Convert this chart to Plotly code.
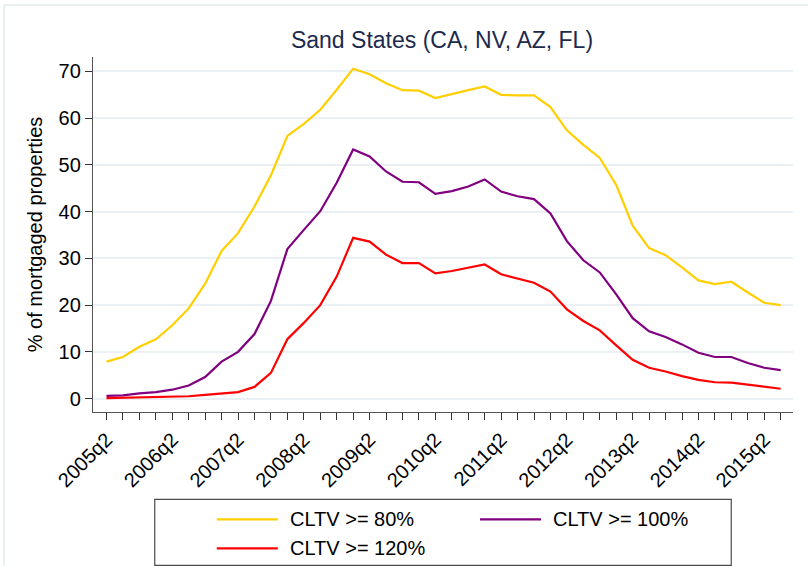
import plotly.graph_objects as go

# Quarterly periods, 2005q2 through 2015q3
quarters = [f"{y}q{q}" for y in range(2005, 2016) for q in range(1, 5)]
quarters = quarters[quarters.index("2005q2"):quarters.index("2015q3") + 1]

# Share of mortgaged properties above each combined loan-to-value threshold (%)
cltv_80 = [7.9, 8.9, 11.1, 12.7, 15.7, 19.3, 24.6, 31.6, 35.4, 41.1,
           47.8, 56.2, 58.8, 61.8, 66.1, 70.6, 69.4, 67.5, 66.0, 65.9,
           64.3, 65.2, 66.0, 66.8, 65.0, 64.9, 64.9, 62.4, 57.4, 54.3,
           51.5, 45.7, 37.0, 32.2, 30.7, 28.1, 25.3, 24.5, 25.0, 22.7,
           20.5, 20.0]
cltv_100 = [0.6, 0.7, 1.1, 1.4, 1.9, 2.8, 4.6, 7.9, 10.0, 13.8,
            20.9, 32.0, 36.1, 40.1, 46.2, 53.3, 51.8, 48.6, 46.4, 46.3,
            43.8, 44.4, 45.4, 46.9, 44.3, 43.3, 42.7, 39.6, 33.7, 29.6,
            27.0, 22.3, 17.2, 14.4, 13.2, 11.6, 9.8, 8.9, 8.9, 7.6,
            6.6, 6.1]
cltv_120 = [0.1, 0.2, 0.3, 0.3, 0.4, 0.5, 0.8, 1.1, 1.4, 2.5,
            5.5, 12.7, 16.2, 20.0, 26.1, 34.4, 33.6, 30.8, 29.0, 29.0,
            26.8, 27.3, 28.0, 28.7, 26.6, 25.7, 24.8, 22.9, 19.1, 16.6,
            14.6, 11.4, 8.3, 6.6, 5.8, 4.8, 4.0, 3.5, 3.4, 3.0,
            2.5, 2.1]

series_names = ["CLTV >= 80%", "CLTV >= 100%", "CLTV >= 120%"]
series_colors = ["#FFCF00", "#800080", "#FF0000"]
series_values = [cltv_80, cltv_100, cltv_120]

x_idx = list(range(len(quarters)))
tick_text = [q if q.endswith("q2") else "" for q in quarters]

FONT = "Liberation Sans, Arial, sans-serif"
TXT = 20

fig = go.Figure()
for name, color, vals in zip(series_names, series_colors, series_values):
    fig.add_trace(go.Scatter(
        x=x_idx, y=vals, mode="lines", name=name,
        line=dict(color=color, width=2.2), showlegend=False,
    ))

W, H = 808, 566
L, R, T, B = 93.3, 15.3, 57, 154.3
pw, ph = W - L - R, H - T - B


def px(x):
    return (x - L) / pw


def py(y):
    return (H - B - y) / ph


shapes = []
annotations = []

# outer graph-region frame
shapes.append(dict(type="rect", xref="paper", yref="paper",
                   x0=px(4.5), x1=px(812), y0=py(5), y1=py(572),
                   line=dict(color="#e3eaee", width=1.5), layer="below"))

# key box
shapes.append(dict(type="rect", xref="paper", yref="paper",
                   x0=px(155), x1=px(731), y0=py(499), y1=py(565),
                   line=dict(color="#4a4a4a", width=1.2)))

key_pos = [(217, 519), (480, 519), (217, 548)]
for (kx, ky), name, color in zip(key_pos, series_names, series_colors):
    shapes.append(dict(type="line", xref="paper", yref="paper",
                       x0=px(kx), x1=px(kx + 61), y0=py(ky), y1=py(ky),
                       line=dict(color=color, width=2.2)))
    annotations.append(dict(xref="paper", yref="paper", x=px(kx + 71), y=py(ky),
                            xanchor="left", yanchor="middle", showarrow=False,
                            text=name, font=dict(family=FONT, size=TXT, color="#000000")))

fig.update_layout(
    width=W, height=H,
    margin=dict(l=L, r=R, t=T, b=B, pad=0),
    paper_bgcolor="white", plot_bgcolor="white",
    title=dict(text="Sand States (CA, NV, AZ, FL)", xref="container", x=442 / W,
               xanchor="center", y=1 - 40 / H, yanchor="middle",
               font=dict(family=FONT, size=23, color="#1c2a4e")),
    shapes=shapes, annotations=annotations,
    xaxis=dict(
        range=[-0.82, 41.75], tickmode="array", tickvals=x_idx, ticktext=tick_text,
        tickangle=-45, ticks="outside", ticklen=7, tickwidth=1, tickcolor="#333333",
        showline=True, linecolor="#555555", linewidth=1.3, showgrid=False,
        zeroline=False, tickfont=dict(family=FONT, size=TXT, color="#000000"),
    ),
    yaxis=dict(
        range=[-2.87, 73.1], tickmode="array", tickvals=[0, 10, 20, 30, 40, 50, 60, 70],
        ticks="outside", ticklen=7, tickwidth=1, tickcolor="#333333",
        showline=True, linecolor="#555555", linewidth=1.3,
        showgrid=True, gridcolor="#eaf0f3", gridwidth=2, zeroline=False,
        tickfont=dict(family=FONT, size=TXT, color="#000000"),
        title=dict(text="% of mortgaged properties", standoff=10,
                   font=dict(family=FONT, size=TXT, color="#000000")),
    ),
)

fig.write_html("out.html")
